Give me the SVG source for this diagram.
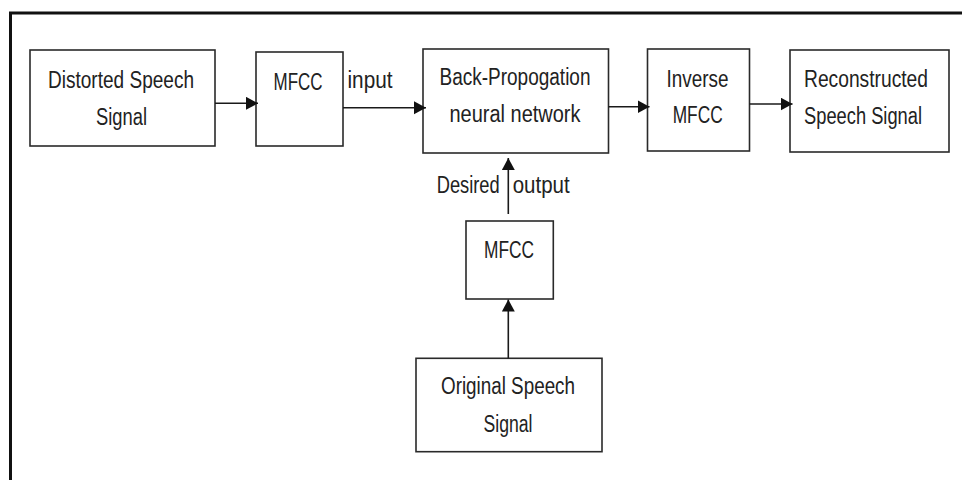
<svg xmlns="http://www.w3.org/2000/svg" width="962" height="480" viewBox="0 0 962 480">
<style>
.box{fill:#fff;stroke:#2a2a2a;stroke-width:1.6}
.lbl{font-family:"Liberation Sans",Arial,sans-serif;font-size:23.5px;fill:#222}
.mid{text-anchor:middle}
.conn{stroke:#1a1a1a;stroke-width:1.6;fill:none}
.frame{stroke:#111;stroke-width:3;fill:none}
</style>
<defs>
<marker id="ah" markerUnits="userSpaceOnUse" markerWidth="13" markerHeight="14" refX="12" refY="6.5" orient="auto">
<path d="M0,0 L12,6.5 L0,13 z" fill="#111"/>
</marker>
</defs>
<rect width="962" height="480" fill="#fff"/>
<path class="frame" d="M10.5,480 V13 H962"/>
<g id="n_distorted">
<rect class="box" x="30" y="50" width="185" height="96"/>
<text class="lbl mid" x="121" y="88" textLength="146" lengthAdjust="spacingAndGlyphs">Distorted Speech</text>
<text class="lbl mid" x="121.5" y="124.5" textLength="51" lengthAdjust="spacingAndGlyphs">Signal</text>
</g>
<g id="n_mfcc1">
<rect class="box" x="256" y="52" width="87" height="94"/>
<text class="lbl mid" x="298" y="89.5" textLength="49" lengthAdjust="spacingAndGlyphs">MFCC</text>
</g>
<g id="n_bpnn">
<rect class="box" x="423" y="49" width="185.5" height="104"/>
<text class="lbl mid" x="515" y="85" textLength="151" lengthAdjust="spacingAndGlyphs">Back-Propogation</text>
<text class="lbl mid" x="515" y="122.3" textLength="131" lengthAdjust="spacingAndGlyphs">neural network</text>
</g>
<g id="n_inverse">
<rect class="box" x="647.5" y="49" width="102" height="102"/>
<text class="lbl mid" x="697.5" y="86.7" textLength="62" lengthAdjust="spacingAndGlyphs">Inverse</text>
<text class="lbl mid" x="697.7" y="123.3" textLength="50" lengthAdjust="spacingAndGlyphs">MFCC</text>
</g>
<g id="n_reconstructed">
<rect class="box" x="790" y="50" width="159" height="102"/>
<text class="lbl" x="804" y="87.3" textLength="124" lengthAdjust="spacingAndGlyphs">Reconstructed</text>
<text class="lbl" x="804" y="124" textLength="118" lengthAdjust="spacingAndGlyphs">Speech Signal</text>
</g>
<g id="n_mfcc2">
<rect class="box" x="466" y="221" width="87.3" height="78"/>
<text class="lbl mid" x="509" y="258.3" textLength="50" lengthAdjust="spacingAndGlyphs">MFCC</text>
</g>
<g id="n_original">
<rect class="box" x="416" y="358.3" width="186" height="93.4"/>
<text class="lbl mid" x="508" y="394.3" textLength="134" lengthAdjust="spacingAndGlyphs">Original Speech</text>
<text class="lbl mid" x="508" y="431.7" textLength="49" lengthAdjust="spacingAndGlyphs">Signal</text>
</g>
<g id="connectors">
<line class="conn" x1="215" y1="103.3" x2="258" y2="103.3" marker-end="url(#ah)"/>
<line class="conn" x1="343" y1="107.7" x2="426" y2="107.7" marker-end="url(#ah)"/>
<line class="conn" x1="608.5" y1="106.7" x2="649.5" y2="106.7" marker-end="url(#ah)"/>
<line class="conn" x1="749.5" y1="104" x2="792.5" y2="104" marker-end="url(#ah)"/>
<line class="conn" x1="508.3" y1="214" x2="508.3" y2="158" marker-end="url(#ah)"/>
<line class="conn" x1="508.3" y1="358.3" x2="508.3" y2="299.5" marker-end="url(#ah)"/>
<text class="lbl" x="347.5" y="87.5" textLength="45" lengthAdjust="spacingAndGlyphs">input</text>
<text class="lbl" x="436.7" y="193.3" textLength="63" lengthAdjust="spacingAndGlyphs">Desired</text>
<text class="lbl" x="512.7" y="193.3" textLength="57" lengthAdjust="spacingAndGlyphs">output</text>
</g>
</svg>
